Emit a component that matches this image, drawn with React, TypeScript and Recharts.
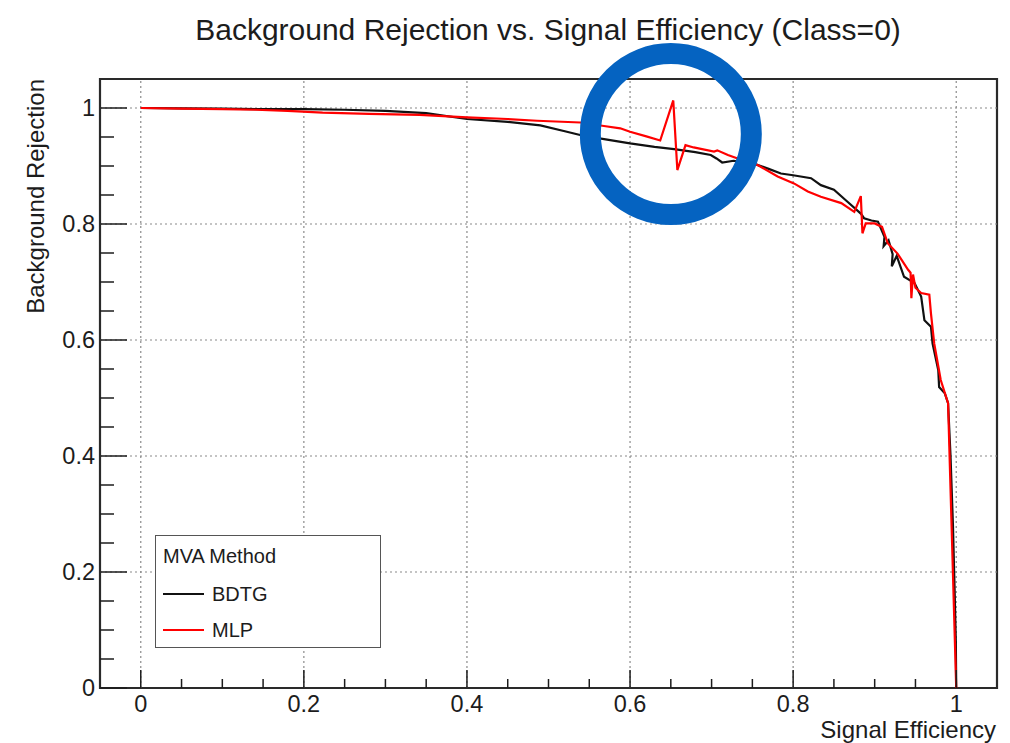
import React from "react";
import {
  LineChart,
  Line,
  XAxis,
  YAxis,
  ReferenceLine,
  ReferenceArea,
  ReferenceDot,
  Legend,
} from "recharts";

// ROC curve points: signal efficiency vs background rejection
const bdtgEff = [
  0, 0.05, 0.1, 0.15, 0.2, 0.25, 0.3, 0.35, 0.4, 0.45, 0.49, 0.52, 0.54, 0.57, 0.6, 0.63, 0.654, 0.68,
  0.699, 0.706, 0.713, 0.727, 0.74, 0.756, 0.77, 0.785, 0.8, 0.822, 0.834, 0.85, 0.867, 0.883, 0.887,
  0.896, 0.904, 0.912, 0.911, 0.917, 0.922, 0.921, 0.927, 0.936, 0.949, 0.957, 0.961, 0.969, 0.971,
  0.978, 0.979, 0.986, 0.99, 0.993, 0.996, 0.998, 0.9995, 1.0,
];
const bdtgRej = [
  1.0, 0.9995, 0.999, 0.998, 0.998, 0.997, 0.995, 0.991, 0.981, 0.976, 0.97, 0.96, 0.953, 0.946, 0.939,
  0.933, 0.929, 0.924, 0.919, 0.913, 0.906, 0.909, 0.906, 0.902, 0.895, 0.887, 0.884, 0.879, 0.867,
  0.859, 0.838, 0.818, 0.81, 0.806, 0.804, 0.778, 0.762, 0.772, 0.748, 0.727, 0.745, 0.709, 0.698,
  0.675, 0.634, 0.623, 0.594, 0.548, 0.519, 0.508, 0.491, 0.4, 0.28, 0.17, 0.08, 0.0,
];

const mlpEff = [
  0, 0.05, 0.1, 0.141, 0.18, 0.223, 0.28, 0.342, 0.4, 0.45, 0.486, 0.539, 0.568, 0.588, 0.6, 0.62,
  0.637, 0.653, 0.658, 0.668, 0.678, 0.703, 0.707, 0.72, 0.732, 0.756, 0.781, 0.801, 0.818, 0.834,
  0.859, 0.875, 0.883, 0.885, 0.889, 0.9, 0.909, 0.916, 0.928, 0.941, 0.944, 0.945, 0.947, 0.95,
  0.957, 0.967, 0.969, 0.973, 0.981, 0.99, 1.0,
];
const mlpRej = [
  1.0, 0.999, 0.998, 0.997, 0.995, 0.992, 0.99, 0.988, 0.984, 0.981, 0.978, 0.975, 0.969, 0.965,
  0.959, 0.951, 0.944, 1.013, 0.893, 0.936, 0.932, 0.925, 0.927, 0.919, 0.913, 0.902, 0.882, 0.87,
  0.856, 0.847, 0.836, 0.821, 0.848, 0.784, 0.801, 0.801, 0.795, 0.767, 0.749, 0.721, 0.716, 0.672,
  0.713, 0.69, 0.681, 0.678, 0.646, 0.594, 0.531, 0.491, 0.0,
];

// axis ticks (ROOT style: labelled majors, unlabelled minors)
const xTicks = [
  0, 0.05, 0.1, 0.15, 0.2, 0.25, 0.3, 0.35, 0.4, 0.45, 0.5, 0.55, 0.6, 0.65, 0.7, 0.75, 0.8, 0.85, 0.9,
  0.95, 1,
];
const xMajor = [0, 0.2, 0.4, 0.6, 0.8, 1];
const yTicks = [
  0, 0.05, 0.1, 0.15, 0.2, 0.25, 0.3, 0.35, 0.4, 0.45, 0.5, 0.55, 0.6, 0.65, 0.7, 0.75, 0.8, 0.85, 0.9,
  0.95, 1,
];
const yMajor = [0, 0.2, 0.4, 0.6, 0.8, 1];
const xGrid = [0, 0.2, 0.4, 0.6, 0.8, 1];
const yGrid = [0.2, 0.4, 0.6, 0.8, 1];

const bdtgData = bdtgEff.map((eff, i) => ({ eff, rej: bdtgRej[i] }));
const mlpData = mlpEff.map((eff, i) => ({ eff, rej: mlpRej[i] }));

const FONT = '"Liberation Sans", Arial, Helvetica, sans-serif';
const INK = "#1c1c1c";

const XTick = (props: any) => {
  const { x, y, payload } = props;
  const major = xMajor.includes(payload.value);
  return (
    <g>
      <line x1={x} x2={x} y1={y} y2={y - (major ? 18 : 9)} stroke={INK} strokeWidth={1.5} />
      {major && (
        <text x={x} y={y + 24} textAnchor="middle" fontFamily={FONT} fontSize={23.5} fill={INK}>
          {String(payload.value)}
        </text>
      )}
    </g>
  );
};

const YTick = (props: any) => {
  const { x, y, payload } = props;
  const major = yMajor.includes(payload.value);
  return (
    <g>
      <line x1={x} x2={x + (major ? 27 : 14)} y1={y} y2={y} stroke={INK} strokeWidth={1.5} />
      {major && (
        <text x={x - 5} y={y + 8} textAnchor="end" fontFamily={FONT} fontSize={23.5} fill={INK}>
          {String(payload.value)}
        </text>
      )}
    </g>
  );
};

const LegendBox = (props: any) => {
  const { payload } = props;
  return (
    <div
      style={{
        width: 226,
        height: 113,
        boxSizing: "border-box",
        border: "1.5px solid #555",
        background: "#fff",
        fontFamily: FONT,
        fontSize: 20,
        color: INK,
        position: "relative",
        lineHeight: "22px",
      }}
    >
      <div style={{ position: "absolute", left: 7, top: 9 }}>MVA Method</div>
      {(payload || []).map((p: any, i: number) => (
        <div
          key={p.value}
          style={{ position: "absolute", left: 7, top: 47 + i * 36, display: "flex", alignItems: "center" }}
        >
          <div style={{ width: 41, height: 2.5, background: p.color }} />
          <span style={{ marginLeft: 8 }}>{p.value}</span>
        </div>
      ))}
    </div>
  );
};

const App = () => {
  return (
    <div style={{ position: "absolute", left: 0, top: 0, width: 1010, height: 743, background: "#fff" }}>
      <div
        style={{
          position: "absolute",
          left: 0,
          width: 1096,
          top: 13,
          textAlign: "center",
          fontFamily: FONT,
          fontSize: 30,
          lineHeight: "34px",
          color: INK,
        }}
      >
        Background Rejection vs. Signal Efficiency (Class=0)
      </div>
      <div
        style={{
          position: "absolute",
          right: 14,
          top: 718,
          fontFamily: FONT,
          fontSize: 24,
          lineHeight: "24px",
          color: INK,
        }}
      >
        Signal Efficiency
      </div>
      <div
        style={{
          position: "absolute",
          left: 23,
          top: 79,
          transformOrigin: "0 0",
          transform: "rotate(-90deg) translateX(-100%)",
          fontFamily: FONT,
          fontSize: 24,
          color: INK,
          whiteSpace: "nowrap",
          lineHeight: "26px",
        }}
      >
        Background Rejection
      </div>
      <div style={{ position: "absolute", left: 0, top: 0 }}>
        <LineChart width={1010} height={743} margin={{ top: 79, right: 13, left: 0, bottom: 0 }}>
          <XAxis
            type="number"
            dataKey="eff"
            domain={[-0.05, 1.05]}
            ticks={xTicks}
            interval={0}
            allowDataOverflow
            height={55}
            axisLine={false}
            tickLine={false}
            tickSize={0}
            tickMargin={0}
            tick={(p: any) => <XTick {...p} />}
          />
          <YAxis
            type="number"
            dataKey="rej"
            domain={[0, 1.05]}
            ticks={yTicks}
            interval={0}
            allowDataOverflow
            width={100}
            axisLine={false}
            tickLine={false}
            tickSize={0}
            tickMargin={0}
            tick={(p: any) => <YTick {...p} />}
          />
          {xGrid.map((v) => (
            <ReferenceLine key={"gx" + v} x={v} stroke="#8a8a8a" strokeDasharray="2 3" strokeWidth={1.2} />
          ))}
          {yGrid.map((v) => (
            <ReferenceLine key={"gy" + v} y={v} stroke="#8a8a8a" strokeDasharray="2 3" strokeWidth={1.2} />
          ))}
          <ReferenceArea x1={-0.05} x2={1.05} y1={0} y2={1.05} fill="none" stroke="#2a2a2a" strokeWidth={2.2} />
          <Line
            data={bdtgData}
            dataKey="rej"
            name="BDTG"
            stroke="#111"
            strokeWidth={2.2}
            dot={false}
            type="linear"
            isAnimationActive={false}
          />
          <Line
            data={mlpData}
            dataKey="rej"
            name="MLP"
            stroke="#f00"
            strokeWidth={2.2}
            dot={false}
            type="linear"
            isAnimationActive={false}
          />
          <ReferenceDot x={0.65} y={0.955} r={80.5} fill="none" stroke="#0563c1" strokeWidth={21} />
          <Legend
            layout="vertical"
            align="center"
            verticalAlign="middle"
            wrapperStyle={{ left: 155, top: 535, width: 226, height: 113 }}
            content={(p: any) => <LegendBox {...p} />}
          />
        </LineChart>
      </div>
    </div>
  );
};

export default App;
